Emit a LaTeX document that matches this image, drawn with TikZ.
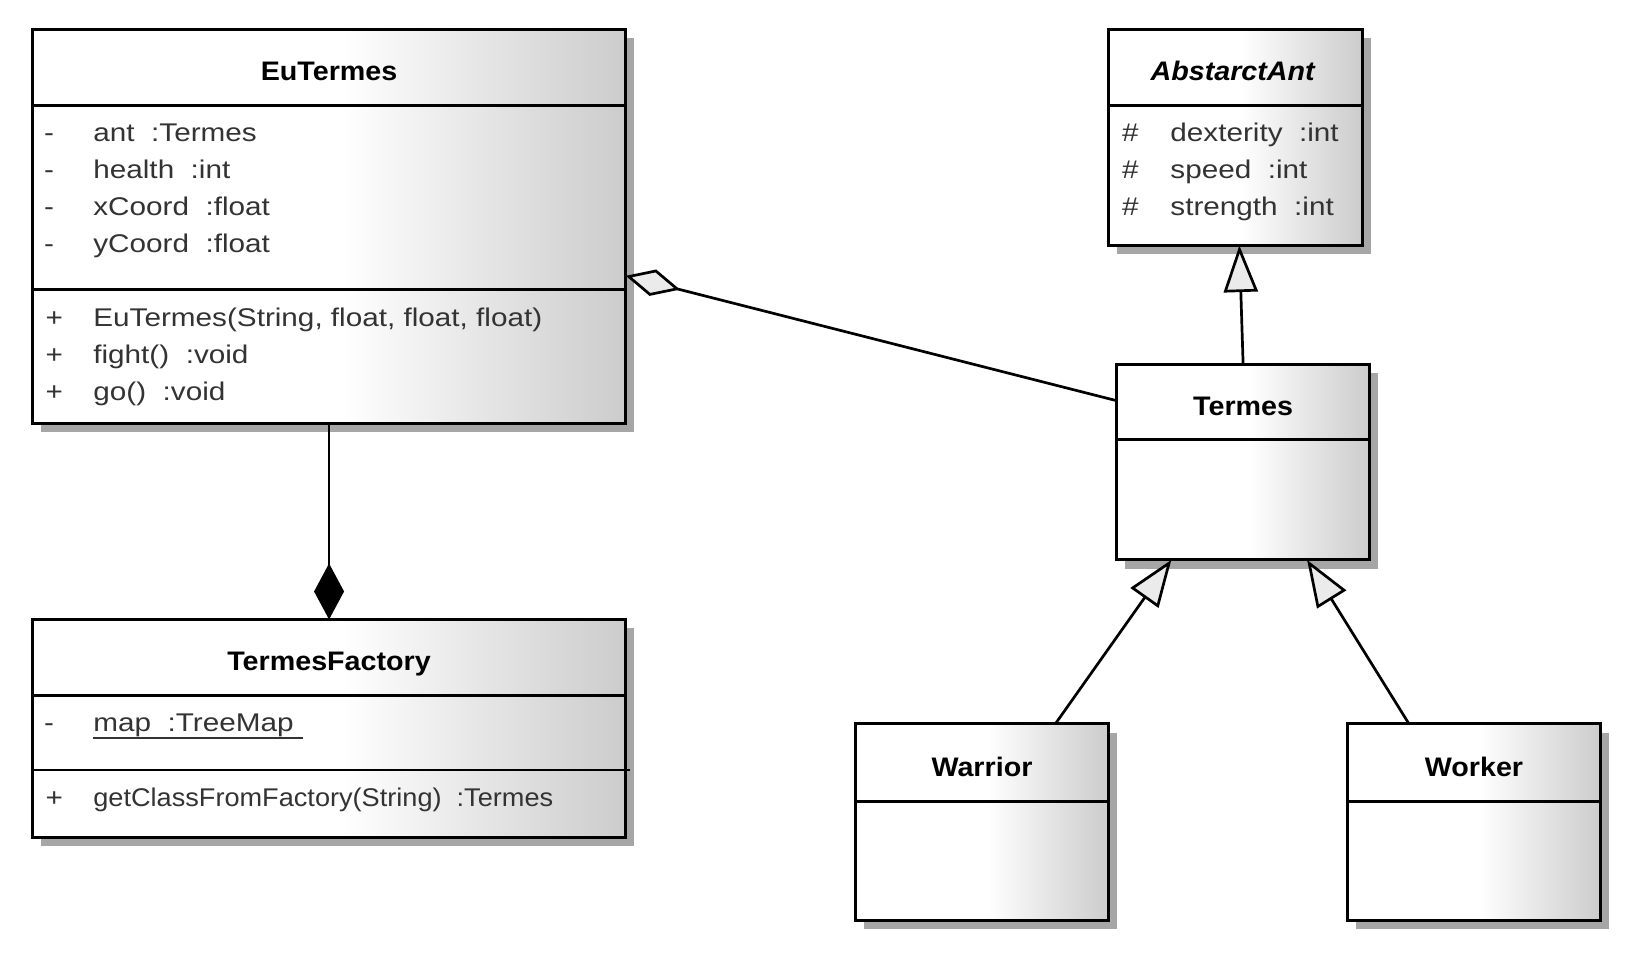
\documentclass[tikz,border=0pt]{standalone}
\usepackage{fontspec}
\setmainfont{Liberation Sans}
\newfontfamily\attrfont{Liberation Sans}[FakeStretch=1.16]
\newfontfamily\tightfont{Liberation Sans}[FakeStretch=1.06]
\newfontfamily\titlefont{Liberation Sans}[FakeStretch=1.07]
\usetikzlibrary{arrows.meta,calc,shadows}
\pgfdeclarehorizontalshading{umlshade}{100bp}{color(0bp)=(white); color(25bp)=(white); color(51bp)=(white); color(75bp)=(black!20); color(100bp)=(black!20)}
\tikzset{
  classbox/.style 2 args={draw, line width=1.5pt, shade, shading=umlshade,
    inner sep=0pt, outer sep=0pt,
    minimum width=#1*0.52235pt, minimum height=#2*0.52235pt,
    drop shadow={shadow xshift=4.3pt, shadow yshift=-4.3pt, fill=black!35, opacity=1}},
  sepline/.style={line width=1.4pt},
  member/.style={font=\attrfont\fontsize{12.8}{15}\selectfont, text=black!80, inner sep=0pt, anchor=base west},
  tmember/.style={font=\tightfont\fontsize{12.8}{15}\selectfont, text=black!80, inner sep=0pt, anchor=base west},
  vis/.style={font=\attrfont\fontsize{12.8}{15}\selectfont, text=black!80, inner sep=0pt, anchor=base},
  ctitle/.style={font=\titlefont\bfseries\fontsize{13.4}{15}\selectfont, inner sep=0pt, anchor=base},
  conn/.style={line width=1.35pt},
  aggr/.style={conn, -{Diamond[length=28pt,width=13.6pt,fill=black!8]}},
  comp/.style={conn, -{Diamond[length=28pt,width=15pt,fill=black]}},
  gen/.style={conn, -{Triangle[length=23.3pt,width=17pt,fill=black!8]}},
  uline/.style={line width=1.1pt, black!80},
}
\begin{document}
\begin{tikzpicture}[x=0.52235pt,y=-0.52235pt]
\fill[white] (0,0) rectangle (1568,923);
\useasboundingbox (0,0) rectangle (1568,923);

% class boxes
\node[classbox={568}{377}] (eu) at (315,216.5) {};
\node[classbox={243}{207}] (aa) at (1182.5,131.5) {};
\node[classbox={242}{187}] (termes) at (1190,442.5) {};
\node[classbox={242}{188}] (warrior) at (940,787) {};
\node[classbox={242}{188}] (worker) at (1411,787) {};
\node[classbox={568}{209}] (tf) at (315,697.5) {};

% compartment separators
\draw[sepline] (eu.west |- 0,101) -- (eu.east |- 0,101);
\draw[sepline] (eu.west |- 0,277) -- (eu.east |- 0,277);
\draw[sepline] (aa.west |- 0,101) -- (aa.east |- 0,101);
\draw[sepline] (termes.west |- 0,421) -- (termes.east |- 0,421);
\draw[sepline] (warrior.west |- 0,767) -- (warrior.east |- 0,767);
\draw[sepline] (worker.west |- 0,767) -- (worker.east |- 0,767);
\draw[sepline] (tf.west |- 0,666) -- (tf.east |- 0,666);
\draw[sepline] (tf.west |- 0,737) -- ([xshift=2pt]tf.east |- 0,737);

% titles
\node[ctitle] (eu-t) at (315,77) {EuTermes};
\node[ctitle] (aa-t) at (1180,77) {\itshape AbstarctAnt};
\node[ctitle] (termes-t) at (1190,398) {Termes};
\node[ctitle] (tf-t) at (315,642) {TermesFactory};
\node[ctitle] (warrior-t) at (940,743) {Warrior};
\node[ctitle] (worker-t) at (1411,743) {Worker};

% EuTermes members
\node[vis] (eu-v1) at (47,135.5) {-};
\node[vis] (eu-v2) at (47,170.5) {-};
\node[vis] (eu-v3) at (47,206.5) {-};
\node[vis] (eu-v4) at (47,241.5) {-};
\node[member] (eu-a1) at (89,135.5) {ant\ \ :Termes};
\node[member] (eu-a2) at (89,170.5) {health\ \ :int};
\node[member] (eu-a3) at (89,206.5) {xCoord\ \ :float};
\node[member] (eu-a4) at (89,241.5) {yCoord\ \ :float};
\node[vis] (eu-w1) at (52,312.5) {+};
\node[vis] (eu-w2) at (52,347.5) {+};
\node[vis] (eu-w3) at (52,383.5) {+};
\node[member] (eu-o1) at (89,312.5) {EuTermes(String, float, float, float)};
\node[member] (eu-o2) at (89,347.5) {fight()\ \ :void};
\node[member] (eu-o3) at (89,383.5) {go()\ \ :void};

% AbstarctAnt members
\node[vis] (aa-v1) at (1082,135.5) {\#};
\node[vis] (aa-v2) at (1082,170.5) {\#};
\node[vis] (aa-v3) at (1082,206.5) {\#};
\node[member] (aa-a1) at (1120,135.5) {dexterity\ \ :int};
\node[member] (aa-a2) at (1120,170.5) {speed\ \ :int};
\node[member] (aa-a3) at (1120,206.5) {strength\ \ :int};

% TermesFactory members
\node[vis] (tf-v1) at (47,700.5) {-};
\node[member] (tf-a1) at (89,700.5) {map\ \ :TreeMap};
\draw[uline] ([yshift=-3.3pt]tf-a1.base west) -- ++(201,0);
\node[vis] (tf-w1) at (52,772.5) {+};
\node[tmember] (tf-o1) at (89,772.5) {getClassFromFactory(String)\ \ :Termes};

% connectors
\draw[aggr] ($(termes.north west)!0.185!(termes.south west)$) -- ($(eu.north east)!0.626!(eu.south east)$);
\draw[comp] (eu.south) -- (tf.north);
\draw[gen] (termes.north) -- ($(aa.south west)!0.516!(aa.south east)$);
\draw[gen] ($(warrior.north west)!0.79!(warrior.north east)$) -- ($(termes.south west)!0.216!(termes.south east)$);
\draw[gen] ($(worker.north west)!0.243!(worker.north east)$) -- ($(termes.south west)!0.753!(termes.south east)$);
\end{tikzpicture}
\end{document}
